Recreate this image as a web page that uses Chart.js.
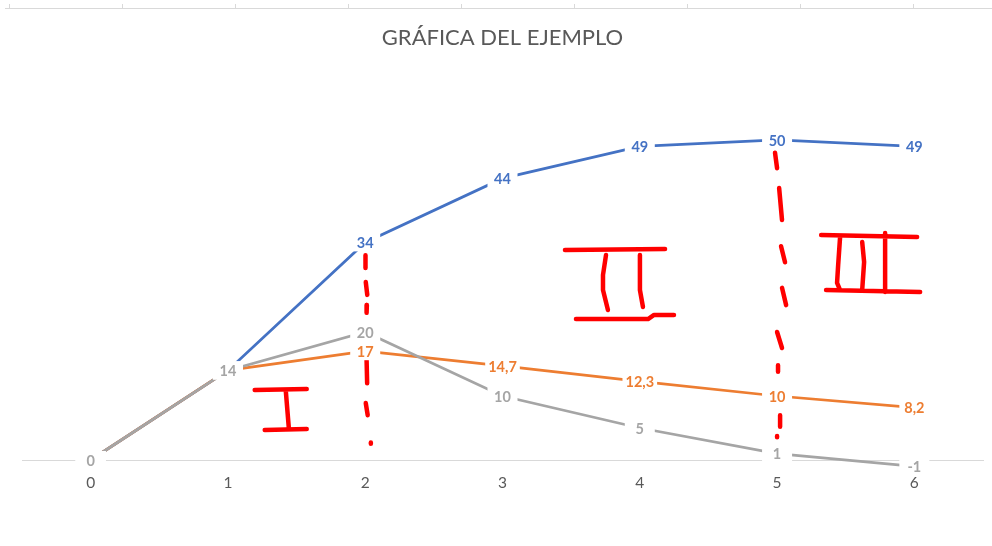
<!DOCTYPE html>
<html>
<head>
<meta charset="utf-8">
<script src="https://cdn.jsdelivr.net/npm/chart.js@4.4.1/dist/chart.umd.min.js"></script>
<style>
  html, body { margin: 0; padding: 0; background: #fff; }
  #wrap { position: relative; width: 992px; height: 546px; }
  #hoja { position: absolute; left: 5px; right: 0; top: 4px; height: 4px; border-bottom: 1px solid #d9d9d9;
          background: repeating-linear-gradient(to right, #d9d9d9 0, #d9d9d9 1px, transparent 1px, transparent 113px);
          background-position: 4px 0; }
  canvas { position: absolute; left: 0; top: 0; }
</style>
</head>
<body>
<div id="wrap">
  <div id="hoja"></div>
  <canvas id="grafica" width="992" height="546"></canvas>
</div>
<script>
var categorias = [0, 1, 2, 3, 4, 5, 6];
var serieAzul = [0, 14, 34, 44, 49, 50, 49];
var serieNaranja = [0, 14, 17, 14.7, 12.3, 10, 8.2];
var serieGris = [0, 14, 20, 10, 5, 1, -1];

// anotaciones a mano (en unidades de los ejes)
var corteEn2 = [
  [[2.002, 32.0], [2.002, 30.0]],
  [[2.004, 27.8], [2.015, 25.8]],
  [[2.012, 24.2], [2.010, 23.0]],
  [[2.010, 15.6], [2.014, 12.0]],
  [[2.004, 8.9], [2.018, 7.0]],
  [[2.041, 2.75], [2.041, 2.55]]
];
var corteEn5 = [
  [[4.985, 48.0], [5.000, 45.6]],
  [[5.015, 42.5], [5.036, 37.5]],
  [[5.029, 33.4], [5.058, 30.9]],
  [[5.036, 26.9], [5.066, 24.2]],
  [[5.000, 20.0], [5.036, 17.5]],
  [[5.007, 14.8], [5.007, 13.8]],
  [[5.022, 7.0], [5.022, 5.2]],
  [[5.000, 3.75], [5.000, 3.55]]
];
var numeroI = [
  [[1.195, 10.94], [1.574, 11.09]],
  [[1.421, 10.94], [1.443, 5.16]],
  [[1.268, 4.69], [1.574, 4.84]]
];
var numeroII = [
  [[3.455, 32.81], [4.184, 32.97]],
  [[3.754, 32.03], [3.732, 28.91], [3.732, 26.56], [3.768, 23.44]],
  [[4.001, 32.03], [4.001, 26.56], [4.023, 23.91]],
  [[3.535, 22.03], [4.060, 22.03], [4.104, 22.66], [4.249, 22.66]]
];
var numeroIII = [
  [[5.321, 35.16], [6.020, 34.84]],
  [[5.459, 34.84], [5.445, 30.47], [5.437, 27.66], [5.459, 26.56]],
  [[5.620, 34.06], [5.634, 30.94], [5.620, 26.56]],
  [[5.787, 35.47], [5.787, 26.25]],
  [[5.357, 26.56], [6.042, 26.25]]
];

function puntos(valores) {
  return categorias.map(function (c, i) { return { x: c, y: valores[i] }; });
}

function trazos(grupos) {
  var out = [];
  grupos.forEach(function (g) {
    g.forEach(function (t) {
      t.forEach(function (p) { out.push({ x: p[0], y: p[1] }); });
      out.push({ x: t[t.length - 1][0], y: null });
    });
  });
  return out;
}

function fmt(v) { return String(v).replace('.', ','); }

var etiquetas = {
  id: 'etiquetas',
  afterDatasetsDraw: function (chart) {
    var ctx = chart.ctx;
    ctx.save();
    ctx.font = 'bold 14.5px Lato';
    ctx.textAlign = 'center';
    ctx.textBaseline = 'middle';
    // de abajo hacia arriba: azul, naranja, gris
    [3, 2, 1].forEach(function (i) {
      var ds = chart.data.datasets[i];
      var meta = chart.getDatasetMeta(i);
      meta.data.forEach(function (el, j) {
        var txt = fmt(ds.data[j].y);
        var w = Math.max(ctx.measureText(txt).width + 6, 30);
        ctx.fillStyle = '#ffffff';
        ctx.fillRect(el.x - w / 2, el.y - 9, w, 18);
        ctx.fillStyle = ds.borderColor;
        ctx.fillText(txt, el.x, el.y + 1);
      });
    });
    ctx.restore();
  }
};

new Chart(document.getElementById('grafica').getContext('2d'), {
  type: 'line',
  data: {
    datasets: [
      { label: 'anotaciones', data: trazos([corteEn2, corteEn5, numeroI, numeroII, numeroIII]),
        borderColor: '#ff0000', borderWidth: 4.5, borderCapStyle: 'round', borderJoinStyle: 'round',
        pointRadius: 0, spanGaps: false, order: 0, clip: false },
      { label: 'Serie 3', data: puntos(serieGris), borderColor: '#a5a5a5', borderWidth: 2.75, pointRadius: 0, order: 1 },
      { label: 'Serie 2', data: puntos(serieNaranja), borderColor: '#ed7d31', borderWidth: 2.75, pointRadius: 0, order: 2 },
      { label: 'Serie 1', data: puntos(serieAzul), borderColor: '#4472c4', borderWidth: 2.75, pointRadius: 0, order: 3 }
    ]
  },
  options: {
    responsive: false,
    animation: false,
    layout: { padding: { left: 22, right: 9, top: 0, bottom: 22 } },
    plugins: {
      legend: { display: false },
      tooltip: { enabled: false },
      title: {
        display: true,
        text: 'GRÁFICA DEL EJEMPLO',
        color: '#595959',
        font: { family: 'Lato', size: 22, weight: 'normal', lineHeight: 1.2 },
        padding: { top: 25, bottom: 24.6 }
      }
    },
    scales: {
      x: {
        type: 'linear',
        min: -0.5,
        max: 6.5,
        position: { y: 0 },
        afterBuildTicks: function (scale) {
          scale.ticks = categorias.map(function (c) { return { value: c }; });
        },
        grid: { color: 'rgba(0,0,0,0)', drawTicks: false },
        border: { display: true, color: '#d9d9d9', width: 1 },
        ticks: { color: '#595959', padding: 14, maxRotation: 0, font: { family: 'Lato', size: 15.5 } }
      },
      y: {
        display: false,
        min: -10,
        max: 60
      }
    }
  },
  plugins: [etiquetas]
});
</script>
</body>
</html>
